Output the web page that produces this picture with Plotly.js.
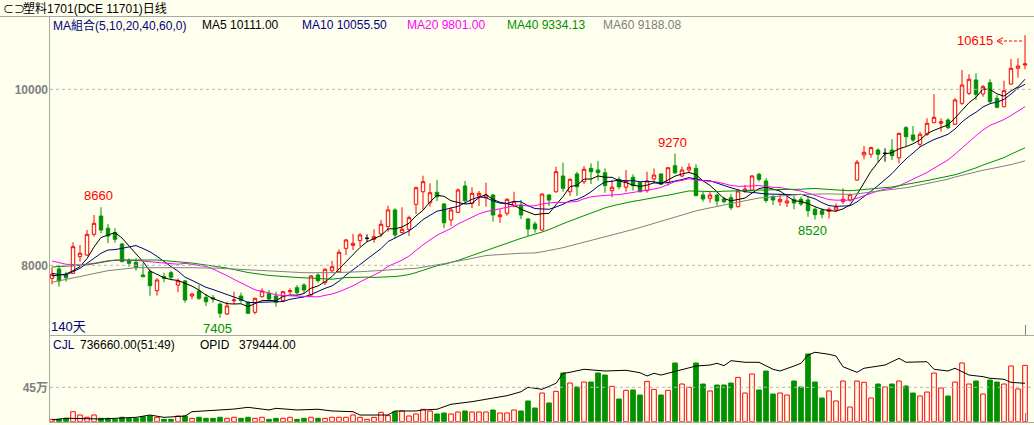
<!DOCTYPE html>
<html>
<head>
<meta charset="utf-8">
<script src="https://cdn.plot.ly/plotly-3.0.1.min.js"></script>
<style>
html,body{margin:0;padding:0;background:#FFFFEE;}
#chart{width:1034px;height:425px;}
</style>
</head>
<body>
<div id="chart"></div>
<script>
// ---------- data ----------
const openP  = [7852,7958,7890,7909,8098,8117,8352,8560,8421,8371,8242,8049,8034,7890,7927,7712,7871,7916,7776,7822,
7651,7708,7636,7632,7560,7447,7598,7651,7583,7466,7643,7682,7651,7598,7700,7746,7776,7663,7890,7802,
7939,7927,8193,8227,8280,8307,8296,8356,8439,8629,8371,8409,8693,8836,8711,8830,8697,8515,8602,8901,
8705,8788,8768,8799,8552,8591,8674,8685,8526,8470,8401,8799,8836,9015,8836,9038,8950,9102,9083,9052,
8848,8977,8887,9000,8939,8848,8981,9038,8943,9132,9015,9083,9102,8799,8761,8799,8754,8768,8666,8845,
8856,9034,8958,8780,8723,8708,8750,8750,8742,8637,8621,8614,8629,8723,8742,8969,9254,9262,9310,9273,
9310,9223,9564,9481,9375,9489,9621,9614,9651,9603,9841,9955,10106,9947,10075,9898,9802,10060,10239,10276];
const highP  = [7977,8004,7927,8262,8231,8401,8572,8660,8470,8421,8257,8080,8080,8023,7955,7852,7916,7939,7852,7833,
7689,7776,7674,7663,7575,7586,7700,7689,7586,7632,7739,7719,7700,7708,7739,7776,7796,7890,7909,7966,
8052,8182,8299,8356,8364,8352,8409,8515,8677,8648,8659,8564,8893,9018,8932,8969,8708,8659,8875,8958,
8887,8845,8939,8810,8637,8762,8836,8742,8541,8496,8815,8810,9121,9166,8989,9064,9129,9159,9185,9102,
8969,9007,9083,9034,8950,9064,9102,9046,9114,9270,9121,9159,9148,8836,8836,8810,8780,8810,8856,8913,
9026,9052,8989,8799,8810,8805,8788,8780,8788,8659,8648,8659,8705,8875,8818,9197,9356,9348,9330,9330,
9432,9507,9583,9583,9518,9671,9947,9671,9671,9898,10220,10171,10182,10049,10114,9935,10098,10345,10352,10615];
const lowP   = [7784,7757,7814,7901,8042,8106,8325,8364,8250,8257,8034,7984,7939,7864,7655,7655,7807,7833,7693,7575,
7614,7606,7538,7575,7405,7435,7560,7575,7447,7443,7636,7606,7530,7580,7674,7663,7682,7655,7802,7776,
7916,7916,8117,8174,8212,8268,8257,8325,8382,8307,8364,8333,8583,8629,8666,8731,8421,8447,8591,8697,
8648,8674,8666,8496,8484,8564,8659,8526,8333,8371,8393,8674,8825,8836,8788,8788,8924,8924,8962,8825,
8773,8864,8836,8848,8830,8825,8932,8913,8905,9038,9000,9046,8788,8723,8711,8677,8705,8629,8659,8825,
8848,8950,8711,8685,8677,8663,8637,8674,8552,8520,8534,8532,8609,8697,8723,8962,9205,9223,9171,9177,
9197,9159,9356,9405,9348,9470,9614,9518,9546,9595,9822,9935,9879,9916,9841,9784,9796,10049,10132,10227];
const closeP = [7898,7822,7859,8212,8137,8352,8477,8401,8333,8296,8042,8023,7973,7871,7768,7833,7852,7864,7822,7606,
7674,7625,7586,7617,7455,7538,7606,7600,7455,7625,7708,7617,7580,7700,7712,7689,7719,7879,7825,7955,
7984,8148,8288,8250,8345,8307,8325,8466,8629,8345,8409,8541,8882,8950,8825,8780,8484,8629,8856,8734,
8818,8818,8799,8572,8572,8750,8723,8572,8413,8413,8810,8742,9064,8875,8977,8893,9091,9064,9052,8905,
8887,8893,8962,8905,8836,8958,9026,8921,9109,9052,9083,9114,8791,8754,8799,8731,8723,8655,8845,8867,
9015,8977,8737,8742,8750,8731,8708,8697,8621,8575,8580,8637,8663,8750,8802,9171,9284,9337,9262,9273,
9246,9500,9462,9424,9489,9614,9682,9632,9564,9879,10049,10114,9943,10030,9859,9796,9984,10239,10265,10288];
const volume = [31000,31000,44000,131000,88000,58000,88000,44000,44000,31000,
58000,44000,44000,65000,75000,58000,31000,31000,75000,75000,
44000,58000,44000,44000,58000,44000,58000,44000,58000,44000,
58000,31000,44000,44000,58000,31000,44000,58000,44000,44000,
58000,58000,58000,88000,57000,31000,57000,123000,79000,131000,
140000,75000,101000,162000,140000,101000,114000,101000,127000,140000,
127000,127000,127000,153000,114000,114000,153000,140000,271000,179000,
375000,245000,397000,637000,506000,454000,519000,519000,637000,611000,
463000,297000,410000,415000,349000,528000,423000,349000,410000,768000,
493000,450000,768000,493000,402000,480000,480000,506000,580000,375000,
624000,415000,663000,362000,375000,349000,532000,454000,886000,519000,
310000,402000,271000,532000,192000,532000,515000,310000,493000,454000,
493000,532000,467000,375000,336000,388000,637000,441000,336000,519000,
768000,493000,532000,362000,545000,519000,493000,729000,428000,736660];
// open interest (OPID), read at the candles where the line bends
const opidDay = [0,2,7,12,14,16,19,20,24,26,28,31,32,35,38,40,43,44,48,49,52,53,55,57,60,63,65,67,68,70,72,73,74,76,79,82,84,85,86,87,89,91,92,94,95,96,97,99,101,103,104,106,107,108,109,111,112,113,115,116,119,121,122,125,126,128,129,131,133,134,136,137,139];
const opidVal = [17000,34000,27000,43000,66000,43000,56000,99000,116000,125000,142000,116000,132000,116000,123000,106000,99000,66000,66000,106000,106000,116000,123000,172000,198000,231000,257000,296000,340000,320000,379000,478000,488000,518000,501000,508000,484000,452000,478000,461000,494000,534000,550000,560000,577000,553000,603000,587000,587000,518000,501000,550000,577000,659000,686000,666000,649000,543000,488000,528000,560000,626000,587000,593000,518000,501000,528000,461000,445000,429000,419000,389000,379444];
// moving-average values before each window is complete
const ma5LeadDay  = [0,1,2,3];
const ma5LeadVal  = [7879,7886,7901,7939];
const ma10LeadDay = [0,1,2,3,4,5,6,7,8];
const ma10LeadVal = [7909,7895,7890,7927,7966,8023,8080,8137,8174];
const ma20LeadDay = [0,2,4,6,8,10,12,14,16,18];
const ma20LeadVal = [8049,8012,8004,8023,8052,8060,8055,8041,8026,8012];
const ma40LeadDay = [0,5,9,15,20,25,28,31,35,38];
const ma40LeadVal = [7981,8004,8060,8060,8026,7969,7918,7885,7862,7848];
const ma60LeadDay = [0,4,8,12,16,20,24,28,32,36,40,44,48,52,56,58];
const ma60LeadVal = [7807,7871,7939,7973,7977,7973,7966,7947,7927,7916,7916,7927,7947,7966,8018,8045];
const priceTicks = [8000,10000];
const volTicks = [450000];
const volTickText = ['45万'];
const extremes = [{d:7,v:8660,up:true},{d:24,v:7405,up:false},{d:89,v:9270,up:true},{d:109,v:8520,up:false}];
const lastHigh = 10615;

// ---------- build ----------
const N = closeP.length;
const days = closeP.map((_,i)=>i);
const BG = '#FFFFEE', RED = '#FF0000', GRN = '#009000';
const isDoji = days.map(i=>openP[i]===closeP[i]);
const pick = (arr,flag)=>days.filter(i=>isDoji[i]===flag).map(i=>arr===days?i:arr[i]);

function movingAvg(n, leadDay, leadVal){
  const xs = leadDay.slice(), ys = leadVal.slice();
  for(let i=n-1;i<N;i++){ let s=0; for(let k=i-n+1;k<=i;k++) s+=closeP[k]; xs.push(i); ys.push(s/n); }
  return {xs, ys};
}
const maDefs = [
  {n:5, d:ma5LeadDay, v:ma5LeadVal, c:'#000000'},
  {n:10,d:ma10LeadDay,v:ma10LeadVal,c:'#000080'},
  {n:20,d:ma20LeadDay,v:ma20LeadVal,c:'#FF00FF'},
  {n:40,d:ma40LeadDay,v:ma40LeadVal,c:GRN},
  {n:60,d:ma60LeadDay,v:ma60LeadVal,c:'#808080'}
];

const traces = [];
traces.push({type:'candlestick', x:pick(days,false), open:pick(openP,false), high:pick(highP,false), low:pick(lowP,false), close:pick(closeP,false),
  increasing:{line:{color:RED,width:1}, fillcolor:BG}, decreasing:{line:{color:GRN,width:1}, fillcolor:GRN},
  whiskerwidth:0, hoverinfo:'skip', xaxis:'x', yaxis:'y'});
traces.push({type:'candlestick', x:pick(days,true), open:pick(openP,true), high:pick(highP,true), low:pick(lowP,true), close:pick(closeP,true),
  increasing:{line:{color:'#000000',width:1}, fillcolor:'#000000'}, decreasing:{line:{color:'#000000',width:1}, fillcolor:'#000000'},
  whiskerwidth:0, hoverinfo:'skip', xaxis:'x', yaxis:'y'});
maDefs.forEach(m=>{
  const r = movingAvg(m.n, m.d, m.v);
  traces.push({type:'scatter', mode:'lines', x:r.xs, y:r.ys, line:{color:m.c, width:1}, hoverinfo:'skip', xaxis:'x', yaxis:'y'});
});
const up = days.map(i=>closeP[i]>=openP[i]);
traces.push({type:'bar', x:days, y:volume, width:0.66, xaxis:'x', yaxis:'y2', hoverinfo:'skip',
  marker:{color:up.map(u=>u?BG:GRN), line:{color:up.map(u=>u?RED:GRN), width:1}}});
traces.push({type:'scatter', mode:'lines', x:opidDay, y:opidVal, line:{color:'#000000', width:1}, xaxis:'x', yaxis:'y3', hoverinfo:'skip'});

// ---------- layout ----------
const W=1034, H=425, L=49;
const px = x=>(x-L)/(W-L), py = y=>1-y/H;
const FONT = 'Liberation Sans, Noto Sans CJK SC, sans-serif';
const GRID = '#B4B4B4', FRAME = '#A8A8A8';

const ann = [];
function txt(t, x, y, c, size, anchor){
  ann.push({text:t, xref:'paper', yref:'paper', x:px(x), y:py(y), xanchor:anchor||'left', yanchor:'middle',
    showarrow:false, font:{family:FONT, size:size||12, color:c||'#000'}});
}
txt('⊂⊃', 1, 9, '#000', 11);
txt('塑料1701(DCE 11701)日线', 21, 8.5, '#000', 12);
txt('MA組合(5,10,20,40,60,0)', 51, 25, '#000080');
txt('MA5 10111.00', 200, 25, '#000');
txt('MA10 10055.50', 300, 25, '#000080');
txt('MA20 9801.00', 405, 25, '#FF00FF');
txt('MA40 9334.13', 505, 25, GRN);
txt('MA60 9188.08', 601, 25, '#808080');
txt('140天', 49, 326, '#000080', 13);
txt('CJL', 51, 344.5, '#000080');
txt('736660.00(51:49)', 78, 344.5, '#000');
txt('OPID', 198, 344.5, '#000');
txt('379444.00', 237, 344.5, '#000');
txt(String(lastHigh), 995, 41, RED, 13, 'right');

extremes.forEach(e=>{
  ann.push({text:String(e.v), xref:'x', yref:'y', x:e.d, y:e.v, xanchor:'center', yanchor:e.up?'bottom':'top',
    xshift:-3, yshift:e.up?2:-1, showarrow:false, font:{family:FONT, size:13, color:e.up?RED:GRN}});
});

const shapes = [];
function pline(x0,y0,x1,y1,color,dash){
  shapes.push({type:'line', xref:'paper', yref:'paper', x0:px(x0), y0:py(y0), x1:px(x1), y1:py(y1),
    line:{color:color, width:1, dash:dash||'solid'}});
}
priceTicks.forEach(v=>shapes.push({type:'line', xref:'paper', yref:'y', x0:px(50), x1:1, y0:v, y1:v, line:{color:GRID, width:1, dash:'3px,3px'}}));
volTicks.forEach(v=>shapes.push({type:'line', xref:'paper', yref:'y2', x0:px(50), x1:1, y0:v, y1:v, line:{color:GRID, width:1, dash:'3px,3px'}}));
pline(0,16.5,W,16.5,FRAME);
pline(49.5,16.5,49.5,422.5,FRAME);
pline(49.5,335.5,W,335.5,FRAME);
pline(49.5,422.5,W,422.5,FRAME);
pline(1025.5,325,1025.5,335,'#808080');
pline(1025.5,413,1025.5,422,'#808080');
// arrow from the last high to its label
pline(999,41,1024,41,RED,'3px,2px');
shapes.push({type:'path', xref:'paper', yref:'paper',
  path:`M ${px(1003)} ${py(37.5)} L ${px(997)} ${py(41)} L ${px(1003)} ${py(44.5)}`, line:{color:RED, width:1}});

const tickFont = {family:FONT, size:12, color:'#808080', weight:'bold'};
const layout = {
  width:W, height:H, margin:{l:L, r:0, t:0, b:0},
  paper_bgcolor:BG, plot_bgcolor:BG, showlegend:false, boxgap:0.3,
  font:{family:FONT},
  xaxis:{range:[-3/7, -3/7 + (W-L)/7], showgrid:false, zeroline:false, showticklabels:false, showline:false, ticks:'', rangeslider:{visible:false}, fixedrange:true},
  yaxis:{domain:[py(335), py(16)], range:[11015-11.364*335, 11015-11.364*16], tickvals:priceTicks, ticktext:priceTicks.map(String),
    tickfont:tickFont, showgrid:false, zeroline:false, showline:false, ticks:'', fixedrange:true},
  yaxis2:{domain:[py(421.7), py(336)], range:[0, (421.7-336)*13081], tickvals:volTicks, ticktext:volTickText,
    tickfont:tickFont, showgrid:false, zeroline:false, showline:false, ticks:'', fixedrange:true},
  yaxis3:{overlaying:'y2', range:[0, (421.7-336)*9881], visible:false, fixedrange:true},
  annotations:ann, shapes:shapes
};
Plotly.newPlot('chart', traces, layout, {staticPlot:true, displayModeBar:false});
</script>
</body>
</html>
